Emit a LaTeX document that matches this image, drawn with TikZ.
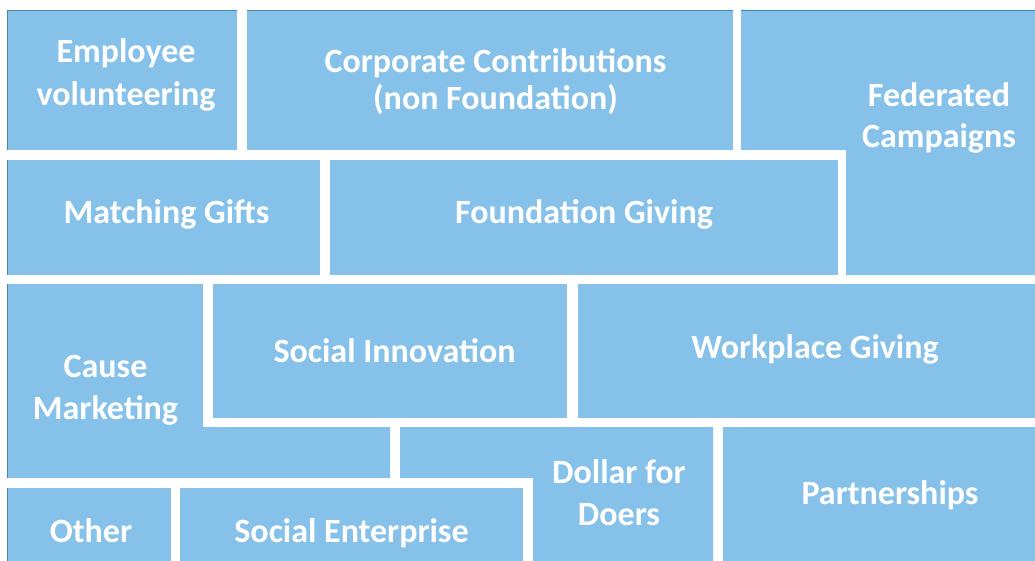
\documentclass[tikz,border=0pt]{standalone}
\usepackage{fontspec}
\setmainfont{Carlito}
\definecolor{tile}{HTML}{85C1E9}
\definecolor{tileedge}{HTML}{4A87B0}
\tikzset{
  tilefill/.style={fill=tile, draw=none},
  edgeline/.style={draw=tileedge, line width=1pt},
  lbl/.style={text=white, font=\bfseries\fontsize{34}{42}\selectfont, align=center, inner sep=0pt, anchor=base},
}
\begin{document}
\begin{tikzpicture}[x=1pt,y=-1pt]
\useasboundingbox (0,0) rectangle (1035,561);
% tiles
\fill[tilefill] (7,10) rectangle (237,150);
\fill[tilefill] (247,10) rectangle (733,150);
\fill[tilefill] (741,10) -- (1035,10) -- (1035,275) -- (846,275) -- (846,150) -- (741,150) -- cycle;
\fill[tilefill] (7,160) rectangle (320,275);
\fill[tilefill] (330,160) rectangle (838,275);
\fill[tilefill] (7,284) -- (203,284) -- (203,427) -- (390,427) -- (390,478) -- (7,478) -- cycle;
\fill[tilefill] (213,284) rectangle (567,418);
\fill[tilefill] (578,284) rectangle (1035,418);
\fill[tilefill] (400,427) -- (713,427) -- (713,561) -- (533,561) -- (533,478) -- (400,478) -- cycle;
\fill[tilefill] (723,427) rectangle (1035,561);
\fill[tilefill] (7,488) rectangle (171,561);
\fill[tilefill] (180,488) rectangle (523,561);
% outer edges
\draw[edgeline] (7,10.5) -- (237,10.5);
\draw[edgeline] (247,10.5) -- (733,10.5);
\draw[edgeline] (741,10.5) -- (1035,10.5);
\draw[edgeline] (7.5,10) -- (7.5,150);
\draw[edgeline] (7.5,160) -- (7.5,275);
\draw[edgeline] (7.5,284) -- (7.5,478);
\draw[edgeline] (7.5,488) -- (7.5,561);
% labels (base anchor = baseline of the last line)
\node[lbl, font=\bfseries\fontsize{34}{43}\selectfont] (emp) at (126,106) {Employee\\volunteering};
\node[lbl, font=\bfseries\fontsize{34}{37.5}\selectfont] (corp) at (495.5,110) {Corporate Contributions\\(non Foundation)};
\node[lbl, font=\bfseries\fontsize{34}{41}\selectfont] (fed) at (939,148) {Federated\\Campaigns};
\node[lbl] (match) at (166.5,224) {Matching Gifts};
\node[lbl] (found) at (584,224) {Foundation Giving};
\node[lbl] (cause) at (105.5,419) {Cause\\Marketing};
\node[lbl] (socinn) at (394.5,362) {Social Innovation};
\node[lbl] (work) at (815,358) {Workplace Giving};
\node[lbl] (dollar) at (619,525) {Dollar for\\Doers};
\node[lbl] (partner) at (890,504) {Partnerships};
\node[lbl] (other) at (91,542) {Other};
\node[lbl] (socent) at (351.5,542) {Social Enterprise};
\end{tikzpicture}
\end{document}
